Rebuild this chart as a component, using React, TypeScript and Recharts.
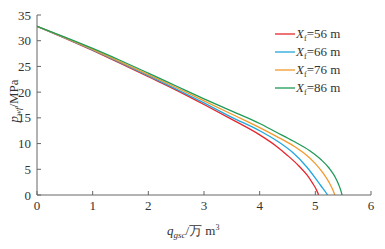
import React from 'react';
import { LineChart, Line, XAxis, YAxis, Legend } from 'recharts';

// ---- data ----
const q56 = [0, 0.5, 1, 1.5, 2, 2.5, 3, 3.5, 4, 4.3, 4.5, 4.7, 4.85, 4.95, 5.02, 5.06];
const p56 = [32.8, 30.5, 28.1, 25.6, 23.0, 20.4, 17.6, 14.7, 11.7, 9.5, 7.7, 5.7, 3.9, 2.3, 1.0, 0];

const q66 = [0, 0.5, 1, 1.5, 2, 2.5, 3, 3.5, 4, 4.3, 4.6, 4.85, 5.0, 5.1, 5.17, 5.22];
const p66 = [32.8, 30.55, 28.2, 25.75, 23.2, 20.6, 17.9, 15.1, 12.5, 10.6, 8.2, 5.4, 3.3, 1.8, 0.8, 0];

const q76 = [0, 0.5, 1, 1.5, 2, 2.5, 3, 3.5, 4, 4.3, 4.6, 4.8, 5.0, 5.15, 5.25, 5.31, 5.35];
const p76 = [32.8, 30.6, 28.3, 25.9, 23.4, 20.9, 18.3, 15.7, 13.1, 11.4, 9.6, 8.1, 6.1, 4.1, 2.4, 1.1, 0];

const q86 = [0, 0.5, 1, 1.5, 2, 2.5, 3, 3.5, 4, 4.3, 4.6, 4.9, 5.1, 5.25, 5.35, 5.42, 5.46, 5.48];
const p86 = [32.8, 30.7, 28.5, 26.15, 23.7, 21.2, 18.7, 16.3, 13.9, 12.2, 10.5, 8.6, 6.9, 5.2, 3.6, 2.0, 0.8, 0];

const seriesNames = ['56 m', '66 m', '76 m', '86 m'];
const xTicks = [0, 1, 2, 3, 4, 5, 6];
const yTicks = [0, 5, 10, 15, 20, 25, 30, 35];

const colors = ['#e5262d', '#22a6de', '#f29a2e', '#1f9a57'];
const FONT = '"Liberation Serif", "Times New Roman", serif';
const AXIS = '#666';

const build = (qs: number[], ps: number[]) => qs.map((q, i) => ({ q, p: ps[i] }));
const seriesData = [build(q56, p56), build(q66, p66), build(q76, p76), build(q86, p86)];

const Y_MARGIN = 6;
const YTick = (props: any) => {
  const { x, y, payload } = props;
  const ax = x + Y_MARGIN;
  return (
    <g>
      <line x1={ax} x2={ax + 4} y1={y} y2={y} stroke={AXIS} strokeWidth={1} />
      <text x={x} y={y + 4.5} textAnchor="end" fontFamily={FONT} fontSize={13} fill="#333">
        {payload.value}
      </text>
    </g>
  );
};

const XTick = (props: any) => {
  const { x, y, payload } = props;
  return (
    <g>
      <line x1={x} x2={x} y1={y} y2={y - 4} stroke={AXIS} strokeWidth={1} />
      <text x={x} y={y + 15} textAnchor="middle" fontFamily={FONT} fontSize={13} fill="#333">
        {payload.value}
      </text>
    </g>
  );
};

const YLabel = () => (
  <text transform="translate(18,101) rotate(-90)" textAnchor="middle" fontFamily={FONT} fontSize={13} fill="#333">
    <tspan fontStyle="italic">p</tspan>
    <tspan fontSize={9} dy={3} fontStyle="italic">wf</tspan>
    <tspan dy={-3}>/MPa</tspan>
  </text>
);

const XLabel = () => (
  <text x={167} y={235} fontFamily={FONT} fontSize={13} fill="#333">
    <tspan fontStyle="italic">q</tspan>
    <tspan fontSize={9} dy={3} fontStyle="italic">gsc</tspan>
    <tspan dy={-3}>/万 m</tspan>
    <tspan fontSize={8} dy={-5}>3</tspan>
  </text>
);

const LegendContent = (props: any) => {
  const { payload } = props;
  return (
    <div style={{ fontFamily: FONT, fontSize: 13, color: '#333' }}>
      {(payload || []).map((entry: any, i: number) => (
        <div key={i} style={{ display: 'flex', alignItems: 'center', height: 18 }}>
          <svg width={21} height={10} style={{ display: 'block' }}>
            <line x1={0} x2={20} y1={5} y2={5} stroke={colors[i]} strokeWidth={1.3} />
          </svg>
          <span>
            <i>X</i>
            <span style={{ fontSize: 8, position: 'relative', top: 3 }}>f</span>
            <span>={entry.value}</span>
          </span>
        </div>
      ))}
    </div>
  );
};

export default function App() {
  return (
    <div style={{ position: 'fixed', left: 0, top: 0, width: 385, height: 249, background: '#fff' }}>
      <LineChart width={385} height={249} margin={{ top: 15, right: 14, left: 0, bottom: 0 }}>
        <XAxis
          type="number"
          dataKey="q"
          domain={[0, 6]}
          ticks={xTicks}
          height={54}
          stroke={AXIS}
          tickLine={false}
          tickSize={0}
          tickMargin={0}
          tick={<XTick />}
          allowDataOverflow
        />
        <YAxis
          type="number"
          dataKey="p"
          domain={[0, 35]}
          ticks={yTicks}
          width={37}
          stroke={AXIS}
          tickLine={false}
          tickSize={0}
          tickMargin={Y_MARGIN}
          tick={<YTick />}
          allowDataOverflow
        />
        {seriesData.map((d, i) => (
          <Line
            key={seriesNames[i]}
            data={d}
            dataKey="p"
            name={seriesNames[i]}
            type="monotone"
            stroke={colors[i]}
            strokeWidth={1.3}
            dot={false}
            isAnimationActive={false}
          />
        ))}
        <Legend
          layout="vertical"
          align="center"
          verticalAlign="middle"
          content={<LegendContent />}
          wrapperStyle={{ position: 'absolute', left: 275, top: 25, width: 100 }}
        />
        <YLabel />
        <XLabel />
      </LineChart>
    </div>
  );
}
